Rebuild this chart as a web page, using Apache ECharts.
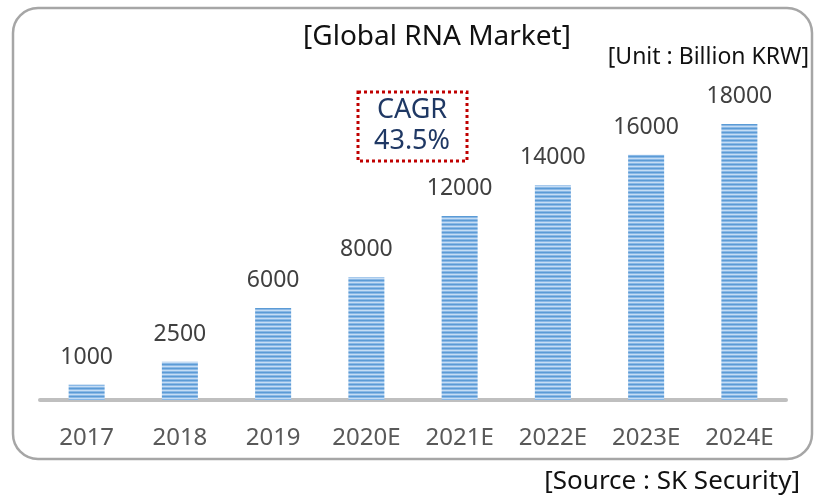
<!DOCTYPE html>
<html><head><meta charset="utf-8">
<script src="https://cdn.jsdelivr.net/npm/echarts@6/dist/echarts.min.js"></script>
<style>html,body{margin:0;padding:0;background:#fff}#c{width:831px;height:501px}</style>
</head><body><div id="c"></div>
<script>
const categories = ['2017','2018','2019','2020E','2021E','2022E','2023E','2024E'];
const values = [1000, 2500, 6000, 8000, 12000, 14000, 16000, 18000];
const titleText = '[Global RNA Market]';
const unitText = '[Unit : Billion KRW]';
const sourceText = '[Source : SK Security]';
const cagrLines = ['CAGR', '43.5%'];

const FONT = '"Noto Sans",sans-serif';

// stripe pattern
const pc = document.createElement('canvas');
pc.width = 4; pc.height = 4;
const px = pc.getContext('2d');
const rows = ['#5b9bd5','#8ab8e6','#c5ddf4','#8ab8e6'];
rows.forEach((c,i)=>{px.fillStyle=c;px.fillRect(0,i,4,1);});

const chart = echarts.init(document.getElementById('c'), null, {renderer:'canvas'});
chart.setOption({
  backgroundColor:'#fff',
  animation:false,
  grid:{left:40, right:45, top:124, bottom:101},
  xAxis:{type:'category', data:categories,
    axisLine:{lineStyle:{color:'#bfbfbf', width:4}},
    axisTick:{show:false},
    axisLabel:{color:'#595959', fontSize:24, fontFamily:FONT, margin:26}},
  yAxis:{type:'value', min:0, max:18000, show:false, splitLine:{show:false}},
  series:[{type:'bar', data:values, barWidth:36,
    itemStyle:{color:{image:pc, repeat:'repeat'}},
    label:{show:true, position:'top', distance:16, color:'#404040', fontSize:23, fontFamily:FONT}}],
  graphic:[
    {type:'rect', shape:{x:13, y:8, width:799, height:451, r:25}, style:{fill:'none', stroke:'#a6a6a6', lineWidth:2.5}, z:-1},
    {type:'text', x:437, y:37, style:{text:titleText, font:'28px '+FONT, fill:'#111', textAlign:'center', textVerticalAlign:'middle'}},
    {type:'text', x:809, y:57, style:{text:unitText, font:'23px '+FONT, fill:'#111', textAlign:'right', textVerticalAlign:'middle'}},
    {type:'text', x:800, y:482, style:{text:sourceText, font:'26px '+FONT, fill:'#111', textAlign:'right', textVerticalAlign:'middle'}},
    {type:'rect', shape:{x:358, y:92, width:109, height:69}, style:{fill:'none', stroke:'#c00000', lineWidth:3, lineDash:[3,3]}},
    {type:'text', x:412, y:110, style:{text:cagrLines[0], font:'27px '+FONT, fill:'#1f3864', textAlign:'center', textVerticalAlign:'middle'}},
    {type:'text', x:412, y:141, style:{text:cagrLines[1], font:'27px '+FONT, fill:'#1f3864', textAlign:'center', textVerticalAlign:'middle'}}
  ]
});
</script></body></html>
